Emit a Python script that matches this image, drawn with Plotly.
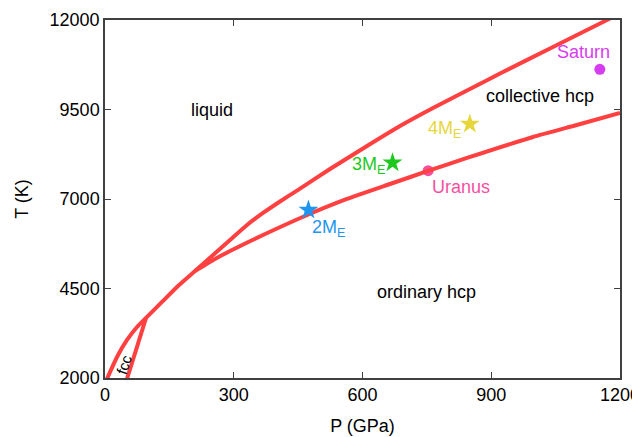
import plotly.graph_objects as go

# Phase boundaries (P in GPa, T in K)
melt_P = [4.7, 28.0, 51.3, 74.6, 95.5, 132.8, 170.1, 209.7, 249.3, 291.3, 330.9, 368.2, 407.8, 447.4,
          524.3, 610.5, 687.4, 764.3, 843.5, 920.4, 1036.9, 1153.4, 1176.7]
melt_T = [1980, 2588, 3062, 3425, 3677, 4124, 4571, 4990, 5409, 5855, 6274, 6610, 6931, 7235,
          7838, 8481, 9039, 9542, 10031, 10506, 11204, 11902, 12042]

hcp_P = [209.7, 256.3, 291.3, 368.2, 466.0, 563.9, 664.1, 752.6, 843.5, 997.3, 1095.1, 1200]
hcp_T = [4990, 5325, 5548, 5995, 6526, 7001, 7419, 7783, 8146, 8732, 9053, 9403]

fcc_P = [51.3, 74.6, 95.5]
fcc_T = [1980, 2867, 3677]

# Planets
planet_names = ["Saturn", "Uranus"]
planet_P = [1153, 753]
planet_T = [10623, 7791]
planet_colors = ["#d63cf0", "#f5509f"]

# Exoplanets (Earth masses)
exo_names = ["2M<sub>E</sub>", "3M<sub>E</sub>", "4M<sub>E</sub>"]
exo_P = [474, 670, 850]
exo_T = [6693, 8014, 9095]
exo_colors = ["#1e96f0", "#1ec81e", "#e6d63c"]

x_ticks = [0, 300, 600, 900, 1200]
y_ticks = [2000, 4500, 7000, 9500, 12000]

red = "#ff4040"
fig = go.Figure()
fig.add_trace(go.Scatter(x=planet_P, y=planet_T, mode="markers",
                         marker=dict(color=planet_colors, size=11, symbol="circle"), showlegend=False))
for xs, ys in [(melt_P, melt_T), (hcp_P, hcp_T), (fcc_P, fcc_T)]:
    fig.add_trace(go.Scatter(x=xs, y=ys, mode="lines", line=dict(color=red, width=4, shape="spline", smoothing=0.5),
                             showlegend=False, hoverinfo="skip"))
fig.add_trace(go.Scatter(x=exo_P, y=exo_T, mode="markers",
                         marker=dict(color=exo_colors, size=15, symbol="star"), showlegend=False))

font = "Liberation Sans, Arial, sans-serif"
def ann(text, x, y, color="black", angle=0, size=18):
    fig.add_annotation(text=text, x=x, y=y, showarrow=False, textangle=angle,
                       font=dict(family=font, size=size, color=color))

ann("liquid", 250, 9493)
ann("collective hcp", 1014, 9866)
ann("ordinary hcp", 748, 4395)
ann("fcc", 44, 2380, angle=-72, size=15)
ann("Saturn", 1114, 11118, planet_colors[0])
ann("Uranus", 829, 7336, planet_colors[1])
ann(exo_names[0], 520, 6188, exo_colors[0])
ann(exo_names[1], 613, 7925, exo_colors[1])
ann(exo_names[2], 792, 8933, exo_colors[2])

axis_common = dict(showgrid=False, zeroline=False, showline=True, linecolor="#404040", linewidth=1.5,
                   mirror="ticks", ticks="inside", ticklen=6, tickcolor="#404040", tickwidth=1.2,
                   automargin=False, ticklabeloverflow="allow",
                   tickfont=dict(family=font, size=18, color="black"))
fig.update_xaxes(range=[0, 1200], tickvals=x_ticks, ticktext=[str(v) for v in x_ticks],
                 title=dict(text="P (GPa)", font=dict(family=font, size=18, color="black"), standoff=15),
                 **axis_common)
fig.update_yaxes(range=[2000, 12000], tickvals=y_ticks, ticktext=[str(v) for v in y_ticks],
                 title=dict(text="T (K)", font=dict(family=font, size=18, color="black"), standoff=16),
                 **axis_common)
# the page body adds an 8px margin on the top and left
fig.update_layout(width=640, height=429, margin=dict(l=97, r=28, t=12, b=59),
                  plot_bgcolor="white", paper_bgcolor="white")
fig.write_html("out.html")
